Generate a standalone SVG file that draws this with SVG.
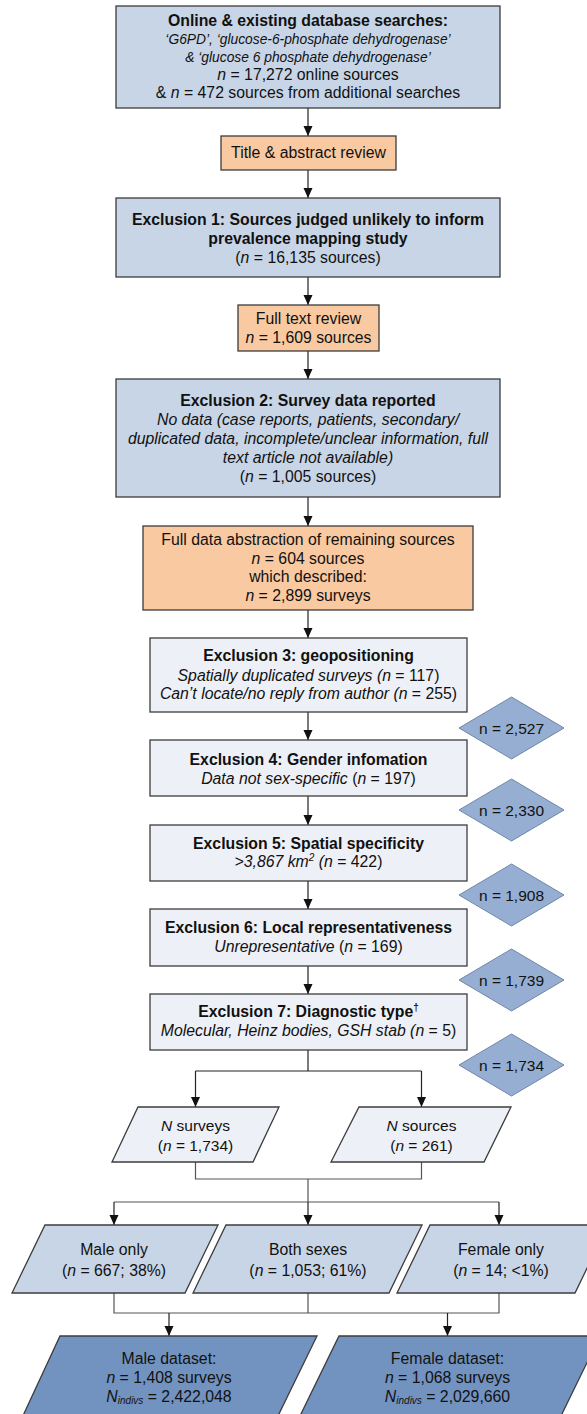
<svg xmlns="http://www.w3.org/2000/svg" width="587" height="1414" viewBox="0 0 587 1414">
  <defs>
    <marker id="arrow" markerUnits="userSpaceOnUse" markerWidth="11" markerHeight="10" refX="10" refY="5" orient="auto">
      <path d="M0,0.5 L10,5 L0,9.5 z" fill="#111"/>
    </marker>
    <style>
      text { font-family: "Liberation Sans", Arial, sans-serif; font-size: 15.8px; fill: #111; text-anchor: middle; }
      .b { font-weight: bold; }
      .i { font-style: italic; }
      .sm { font-size: 13.8px; }
      .dt { font-size: 15.5px; }
      .blue { fill: #c8d5e6; stroke: #3c3c3c; stroke-width: 1.3; }
      .orange { fill: #f9c9a1; stroke: #3c3c3c; stroke-width: 1.3; }
      .pale { fill: #edf0f6; stroke: #3c3c3c; stroke-width: 1.3; }
      .dia { fill: #95aed1; stroke: #6f86a8; stroke-width: 1; }
      .dark { fill: #7293c0; stroke: #3c3c3c; stroke-width: 1.3; }
      .conn { fill: none; stroke: #222; stroke-width: 1.2; }
      .conn2 { fill: none; stroke: #555; stroke-width: 1.2; }
    </style>
  </defs>

  <!-- connectors -->
  <g id="connectors">
    <line class="conn" x1="308" y1="108" x2="308" y2="136" marker-end="url(#arrow)"/>
    <line class="conn" x1="308" y1="170" x2="308" y2="198" marker-end="url(#arrow)"/>
    <line class="conn" x1="308" y1="277" x2="308" y2="305" marker-end="url(#arrow)"/>
    <line class="conn" x1="308" y1="351" x2="308" y2="379" marker-end="url(#arrow)"/>
    <line class="conn" x1="308" y1="497" x2="308" y2="526" marker-end="url(#arrow)"/>
    <line class="conn" x1="308" y1="610" x2="308" y2="638" marker-end="url(#arrow)"/>
    <line class="conn" x1="308" y1="712" x2="308" y2="740" marker-end="url(#arrow)"/>
    <line class="conn" x1="308" y1="796" x2="308" y2="825" marker-end="url(#arrow)"/>
    <line class="conn" x1="308" y1="881" x2="308" y2="909" marker-end="url(#arrow)"/>
    <line class="conn" x1="308" y1="966" x2="308" y2="994" marker-end="url(#arrow)"/>
    <!-- split into surveys / sources -->
    <path class="conn" d="M308,1050 V1071"/>
    <path class="conn" d="M195.5,1071 H421.5"/>
    <line class="conn" x1="195.5" y1="1071" x2="195.5" y2="1107" marker-end="url(#arrow)"/>
    <line class="conn" x1="421.5" y1="1071" x2="421.5" y2="1107" marker-end="url(#arrow)"/>
    <!-- merge then split by sex -->
    <path class="conn2" d="M195.5,1162 V1179 H421.5 V1162 M308,1179 V1202"/>
    <path class="conn2" d="M114,1202 H499"/>
    <line class="conn" x1="114" y1="1202" x2="114" y2="1225" marker-end="url(#arrow)"/>
    <line class="conn" x1="308" y1="1202" x2="308" y2="1225" marker-end="url(#arrow)"/>
    <line class="conn" x1="499" y1="1202" x2="499" y2="1225" marker-end="url(#arrow)"/>
    <!-- into datasets -->
    <path class="conn2" d="M114,1293 V1313 H499 V1293 M308,1293 V1313"/>
    <line class="conn" x1="169" y1="1313" x2="169" y2="1336" marker-end="url(#arrow)"/>
    <line class="conn" x1="447.5" y1="1313" x2="447.5" y2="1336" marker-end="url(#arrow)"/>
  </g>

  <g id="searches">
    <rect class="blue" x="116" y="6" width="384" height="102"/>
    <text x="308" y="26" class="b">Online &amp; existing database searches:</text>
    <text x="308" y="44" class="i sm">‘G6PD’, ‘glucose-6-phosphate dehydrogenase’</text>
    <text x="308" y="62" class="i sm">&amp; ‘glucose 6 phosphate dehydrogenase’</text>
    <text x="308" y="80"><tspan class="i">n</tspan> = 17,272 online sources</text>
    <text x="308" y="98">&amp; <tspan class="i">n</tspan> = 472 sources from additional searches</text>
  </g>

  <g id="title-review">
    <rect class="orange" x="221" y="136" width="175" height="34"/>
    <text x="308.5" y="158">Title &amp; abstract review</text>
  </g>

  <g id="exclusion1">
    <rect class="blue" x="116" y="198" width="384" height="79"/>
    <text x="308" y="225" class="b">Exclusion 1: Sources judged unlikely to inform</text>
    <text x="308" y="244" class="b">prevalence mapping study</text>
    <text x="308" y="263">(<tspan class="i">n</tspan> = 16,135 sources)</text>
  </g>

  <g id="fulltext-review">
    <rect class="orange" x="238" y="305" width="141" height="46"/>
    <text x="308.5" y="324">Full text review</text>
    <text x="308.5" y="343"><tspan class="i">n</tspan> = 1,609 sources</text>
  </g>

  <g id="exclusion2">
    <rect class="blue" x="116" y="379" width="384" height="118"/>
    <text x="308" y="405.5" class="b">Exclusion 2: Survey data reported</text>
    <text x="308" y="425" class="i">No data (case reports, patients, secondary/</text>
    <text x="308" y="444" class="i">duplicated data, incomplete/unclear information, full</text>
    <text x="308" y="462.5" class="i">text article not available)</text>
    <text x="308" y="481.5">(<tspan class="i">n</tspan> = 1,005 sources)</text>
  </g>

  <g id="abstraction">
    <rect class="orange" x="143" y="526" width="330" height="84"/>
    <text x="308" y="545">Full data abstraction of remaining sources</text>
    <text x="308" y="563.5"><tspan class="i">n</tspan> = 604 sources</text>
    <text x="308" y="582">which described:</text>
    <text x="308" y="601"><tspan class="i">n</tspan> = 2,899 surveys</text>
  </g>

  <g id="exclusion3">
    <rect class="pale" x="150" y="638" width="317" height="74"/>
    <text x="308.5" y="661" class="b">Exclusion 3: geopositioning</text>
    <text x="308.5" y="680.5"><tspan class="i">Spatially duplicated surveys (n</tspan> = 117)</text>
    <text x="308.5" y="699"><tspan class="i">Can’t locate/no reply from author (n</tspan> = 255)</text>
  </g>

  <g id="exclusion4">
    <rect class="pale" x="150" y="740" width="317" height="56"/>
    <text x="308.5" y="764.5" class="b">Exclusion 4: Gender infomation</text>
    <text x="308.5" y="784"><tspan class="i">Data not sex-specific</tspan> (<tspan class="i">n</tspan> = 197)</text>
  </g>

  <g id="exclusion5">
    <rect class="pale" x="150" y="825" width="317" height="56"/>
    <text x="308.5" y="849" class="b">Exclusion 5: Spatial specificity</text>
    <text x="308.5" y="867"><tspan class="i">&gt;3,867 km</tspan><tspan class="i" font-size="10" dy="-6">2</tspan><tspan class="i" dy="6"> (n</tspan> = 422)</text>
  </g>

  <g id="exclusion6">
    <rect class="pale" x="150" y="909" width="317" height="57"/>
    <text x="308.5" y="933" class="b">Exclusion 6: Local representativeness</text>
    <text x="308.5" y="952"><tspan class="i">Unrepresentative</tspan> (<tspan class="i">n</tspan> = 169)</text>
  </g>

  <g id="exclusion7">
    <rect class="pale" x="150" y="994" width="317" height="56"/>
    <text x="308.5" y="1017" class="b">Exclusion 7: Diagnostic type<tspan font-size="10" dy="-6">†</tspan></text>
    <text x="308.5" y="1036"><tspan class="i">Molecular, Heinz bodies, GSH stab (n</tspan> = 5)</text>
  </g>

  <g id="count-2527">
    <polygon class="dia" points="459,728 511.5,697 564,728 511.5,759"/>
    <text x="511.5" y="733.5" class="dt">n = 2,527</text>
  </g>
  <g id="count-2330">
    <polygon class="dia" points="459,810 511.5,779 564,810 511.5,841"/>
    <text x="511.5" y="815.5" class="dt">n = 2,330</text>
  </g>
  <g id="count-1908">
    <polygon class="dia" points="459,895 511.5,864 564,895 511.5,926"/>
    <text x="511.5" y="900.5" class="dt">n = 1,908</text>
  </g>
  <g id="count-1739">
    <polygon class="dia" points="459,980 511.5,949 564,980 511.5,1011"/>
    <text x="511.5" y="985.5" class="dt">n = 1,739</text>
  </g>
  <g id="count-1734">
    <polygon class="dia" points="459,1065 511.5,1034 564,1065 511.5,1096"/>
    <text x="511.5" y="1070.5" class="dt">n = 1,734</text>
  </g>

  <g id="n-surveys">
    <polygon class="pale" points="138,1107 279,1107 253,1162 112,1162"/>
    <text x="195.5" y="1130.5" class="dt"><tspan class="i">N</tspan> surveys</text>
    <text x="195.5" y="1150.5" class="dt">(<tspan class="i">n</tspan> = 1,734)</text>
  </g>
  <g id="n-sources">
    <polygon class="pale" points="359,1107 511,1107 484,1162 331,1162"/>
    <text x="421.5" y="1130.5" class="dt"><tspan class="i">N</tspan> sources</text>
    <text x="421.5" y="1150.5" class="dt">(<tspan class="i">n</tspan> = 261)</text>
  </g>

  <g id="male-only">
    <polygon class="blue" points="45,1225 218,1225 185,1293 12,1293"/>
    <text x="114" y="1254.5">Male only</text>
    <text x="114" y="1275.5">(<tspan class="i">n</tspan> = 667; 38%)</text>
  </g>
  <g id="both-sexes">
    <polygon class="blue" points="226,1225 422,1225 389,1293 193,1293"/>
    <text x="308" y="1254.5">Both sexes</text>
    <text x="308" y="1275.5">(<tspan class="i">n</tspan> = 1,053; 61%)</text>
  </g>
  <g id="female-only">
    <polygon class="blue" points="430,1225 608,1225 575,1293 397,1293"/>
    <text x="501" y="1254.5">Female only</text>
    <text x="501" y="1275.5">(<tspan class="i">n</tspan> = 14; &lt;1%)</text>
  </g>

  <g id="male-dataset">
    <polygon class="dark" points="60,1336 317,1336 276,1420 21,1420"/>
    <text x="169" y="1364">Male dataset:</text>
    <text x="169" y="1383"><tspan class="i">n</tspan> = 1,408 surveys</text>
    <text x="169" y="1402"><tspan class="i">N</tspan><tspan class="i" font-size="10" dy="2">indivs</tspan><tspan dy="-2"> = 2,422,048</tspan></text>
  </g>
  <g id="female-dataset">
    <polygon class="dark" points="339,1336 600,1336 559,1420 298,1420"/>
    <text x="447.5" y="1364">Female dataset:</text>
    <text x="447.5" y="1383"><tspan class="i">n</tspan> = 1,068 surveys</text>
    <text x="447.5" y="1402"><tspan class="i">N</tspan><tspan class="i" font-size="10" dy="2">indivs</tspan><tspan dy="-2"> = 2,029,660</tspan></text>
  </g>
</svg>
